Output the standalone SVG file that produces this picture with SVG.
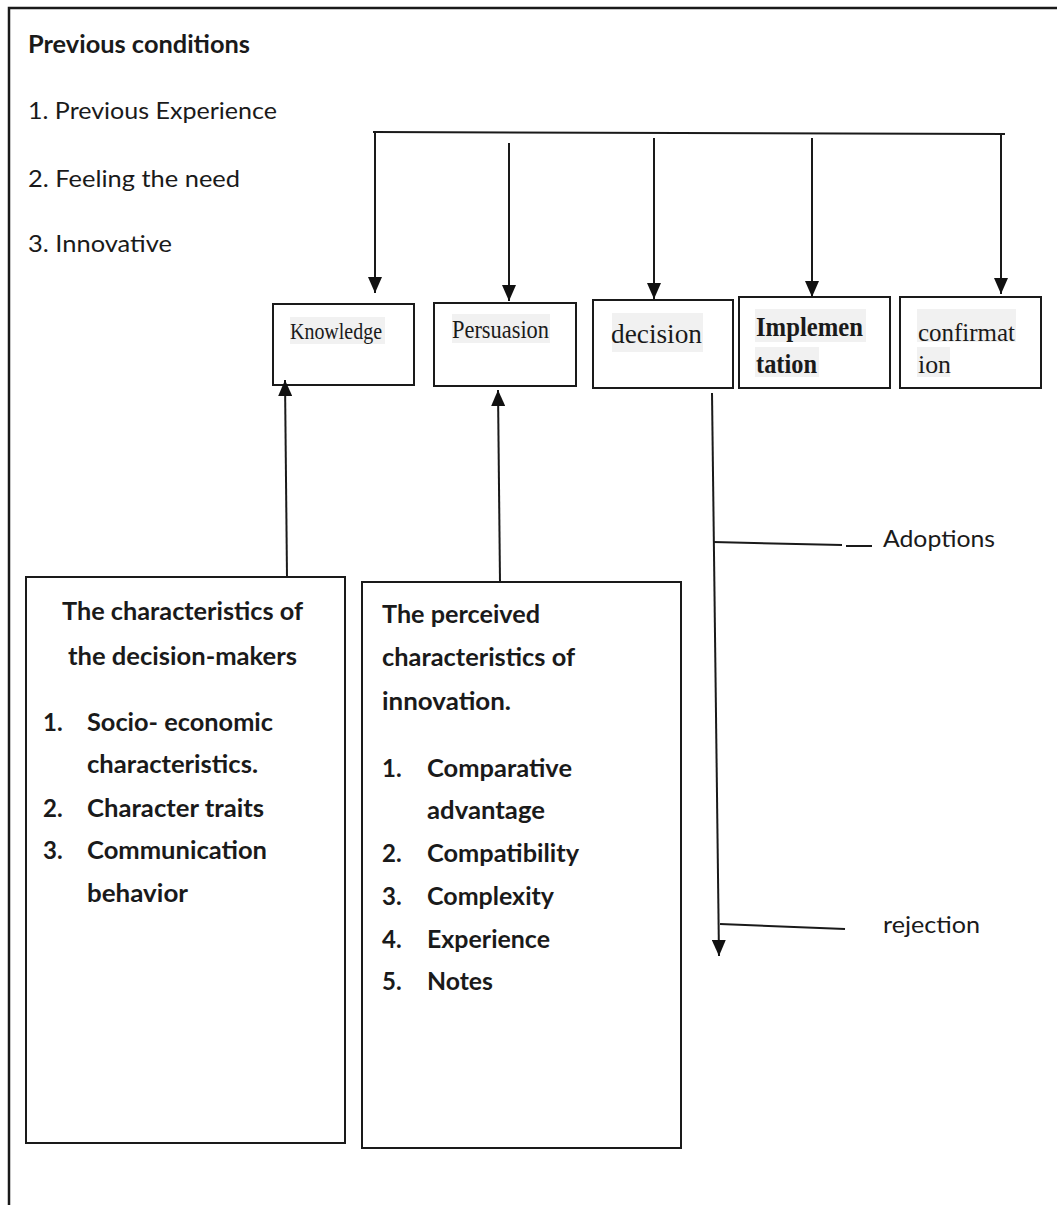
<svg xmlns="http://www.w3.org/2000/svg" width="1057" height="1205" viewBox="0 0 1057 1205">
<style>
.frame{stroke:#1a1a1a;stroke-width:2.5;fill:none}
.box{fill:#fff;stroke:#1a1a1a;stroke-width:2}
.hl{fill:#f1f1f1}
.conn{stroke:#1a1a1a;stroke-width:2;fill:none}
text{fill:#1a1a1a}
.sans{font-family:Lato,"Open Sans","Liberation Sans",sans-serif;font-size:23px}
.sb{font-family:Lato,"Open Sans","Liberation Sans",sans-serif;font-size:24px;font-weight:bold}
.serif{font-family:"Liberation Serif","DejaVu Serif",serif}
</style>
<defs>
<marker id="arr" markerUnits="userSpaceOnUse" markerWidth="16" markerHeight="14" refX="16" refY="7" orient="auto">
<path d="M0,0 L16,7 L0,14 Z" fill="#111"/>
</marker>
</defs>
<rect width="1057" height="1205" fill="#fff"/>
<path class="frame" d="M9,1205 L9,8 L1057,8"/>

<g id="previous-conditions">
<text class="sb" x="28" y="53" textLength="222" lengthAdjust="spacingAndGlyphs">Previous conditions</text>
<text class="sans" x="28" y="119" textLength="249" lengthAdjust="spacingAndGlyphs">1. Previous Experience</text>
<text class="sans" x="28" y="187" textLength="212" lengthAdjust="spacingAndGlyphs">2. Feeling the need</text>
<text class="sans" x="28" y="252" textLength="144" lengthAdjust="spacingAndGlyphs">3. Innovative</text>
</g>

<g id="knowledge">
<rect class="box" x="273" y="304" width="141" height="81"/>
<rect class="hl" x="290" y="317" width="95" height="27"/>
<text class="serif" x="290" y="339" font-size="24" textLength="92" lengthAdjust="spacingAndGlyphs">Knowledge</text>
</g>
<g id="persuasion">
<rect class="box" x="434" y="303" width="142" height="83"/>
<rect class="hl" x="452" y="314" width="98" height="29"/>
<text class="serif" x="452" y="338" font-size="25" textLength="97" lengthAdjust="spacingAndGlyphs">Persuasion</text>
</g>
<g id="decision">
<rect class="box" x="593" y="300" width="140" height="88"/>
<rect class="hl" x="612" y="313" width="91" height="39"/>
<text class="serif" x="611" y="343" font-size="28" textLength="91" lengthAdjust="spacingAndGlyphs">decision</text>
</g>
<g id="implementation">
<rect class="box" x="739" y="297" width="151" height="91"/>
<rect class="hl" x="755" y="309" width="111" height="33"/>
<rect class="hl" x="755" y="347" width="64" height="30"/>
<text class="serif" x="756" y="336" font-size="27" font-weight="bold" textLength="107" lengthAdjust="spacingAndGlyphs">Implemen</text>
<text class="serif" x="756" y="373" font-size="27" font-weight="bold" textLength="61" lengthAdjust="spacingAndGlyphs">tation</text>
</g>
<g id="confirmation">
<rect class="box" x="900" y="297" width="141" height="91"/>
<rect class="hl" x="917" y="309" width="99" height="33"/>
<rect class="hl" x="917" y="347" width="33" height="30"/>
<text class="serif" x="918" y="341" font-size="26" textLength="97" lengthAdjust="spacingAndGlyphs">confirmat</text>
<text class="serif" x="918" y="373" font-size="26" textLength="33" lengthAdjust="spacingAndGlyphs">ion</text>
</g>

<g id="decision-makers">
<rect class="box" x="26" y="577" width="319" height="566"/>
<text class="sb" x="62" y="620" textLength="241" lengthAdjust="spacingAndGlyphs">The characteristics of</text>
<text class="sb" x="68" y="665" textLength="229" lengthAdjust="spacingAndGlyphs">the decision-makers</text>
<text class="sb" x="43" y="731">1.</text>
<text class="sb" x="87" y="731" textLength="186" lengthAdjust="spacingAndGlyphs">Socio- economic</text>
<text class="sb" x="87" y="773" textLength="171" lengthAdjust="spacingAndGlyphs">characteristics.</text>
<text class="sb" x="43" y="817">2.</text>
<text class="sb" x="87" y="817" textLength="177" lengthAdjust="spacingAndGlyphs">Character traits</text>
<text class="sb" x="43" y="859">3.</text>
<text class="sb" x="87" y="859" textLength="180" lengthAdjust="spacingAndGlyphs">Communication</text>
<text class="sb" x="87" y="902" textLength="101" lengthAdjust="spacingAndGlyphs">behavior</text>
</g>

<g id="innovation-characteristics">
<rect class="box" x="362" y="582" width="319" height="566"/>
<text class="sb" x="382" y="623" textLength="158" lengthAdjust="spacingAndGlyphs">The perceived</text>
<text class="sb" x="382" y="666" textLength="193" lengthAdjust="spacingAndGlyphs">characteristics of</text>
<text class="sb" x="382" y="710" textLength="129" lengthAdjust="spacingAndGlyphs">innovation.</text>
<text class="sb" x="382" y="777">1.</text>
<text class="sb" x="427" y="777" textLength="145" lengthAdjust="spacingAndGlyphs">Comparative</text>
<text class="sb" x="427" y="819" textLength="118" lengthAdjust="spacingAndGlyphs">advantage</text>
<text class="sb" x="382" y="862">2.</text>
<text class="sb" x="427" y="862" textLength="152" lengthAdjust="spacingAndGlyphs">Compatibility</text>
<text class="sb" x="382" y="905">3.</text>
<text class="sb" x="427" y="905" textLength="127" lengthAdjust="spacingAndGlyphs">Complexity</text>
<text class="sb" x="382" y="948">4.</text>
<text class="sb" x="427" y="948" textLength="123" lengthAdjust="spacingAndGlyphs">Experience</text>
<text class="sb" x="382" y="990">5.</text>
<text class="sb" x="427" y="990" textLength="66" lengthAdjust="spacingAndGlyphs">Notes</text>
</g>

<g id="adoptions">
<text class="sans" x="883" y="547" font-size="24" textLength="112" lengthAdjust="spacingAndGlyphs">Adoptions</text>
</g>
<g id="rejection">
<text class="sans" x="883" y="933" font-size="24" textLength="97" lengthAdjust="spacingAndGlyphs">rejection</text>
</g>

<g id="connectors">
<path class="conn" d="M373,132 L1005,134"/>
<path class="conn" d="M375,132 L375,293" marker-end="url(#arr)"/>
<path class="conn" d="M509,143 L509,301" marker-end="url(#arr)"/>
<path class="conn" d="M654,138 L654,299" marker-end="url(#arr)"/>
<path class="conn" d="M812,138 L812,297" marker-end="url(#arr)"/>
<path class="conn" d="M1001,133 L1001,294" marker-end="url(#arr)"/>
<path class="conn" d="M287,577 L285,380" marker-end="url(#arr)"/>
<path class="conn" d="M500,582 L498,390" marker-end="url(#arr)"/>
<path class="conn" d="M712,393 L719,956" marker-end="url(#arr)"/>
<path class="conn" d="M713,542 L842,545 M846,546 L872,546"/>
<path class="conn" d="M720,924 L845,929"/>
</g>
</svg>
